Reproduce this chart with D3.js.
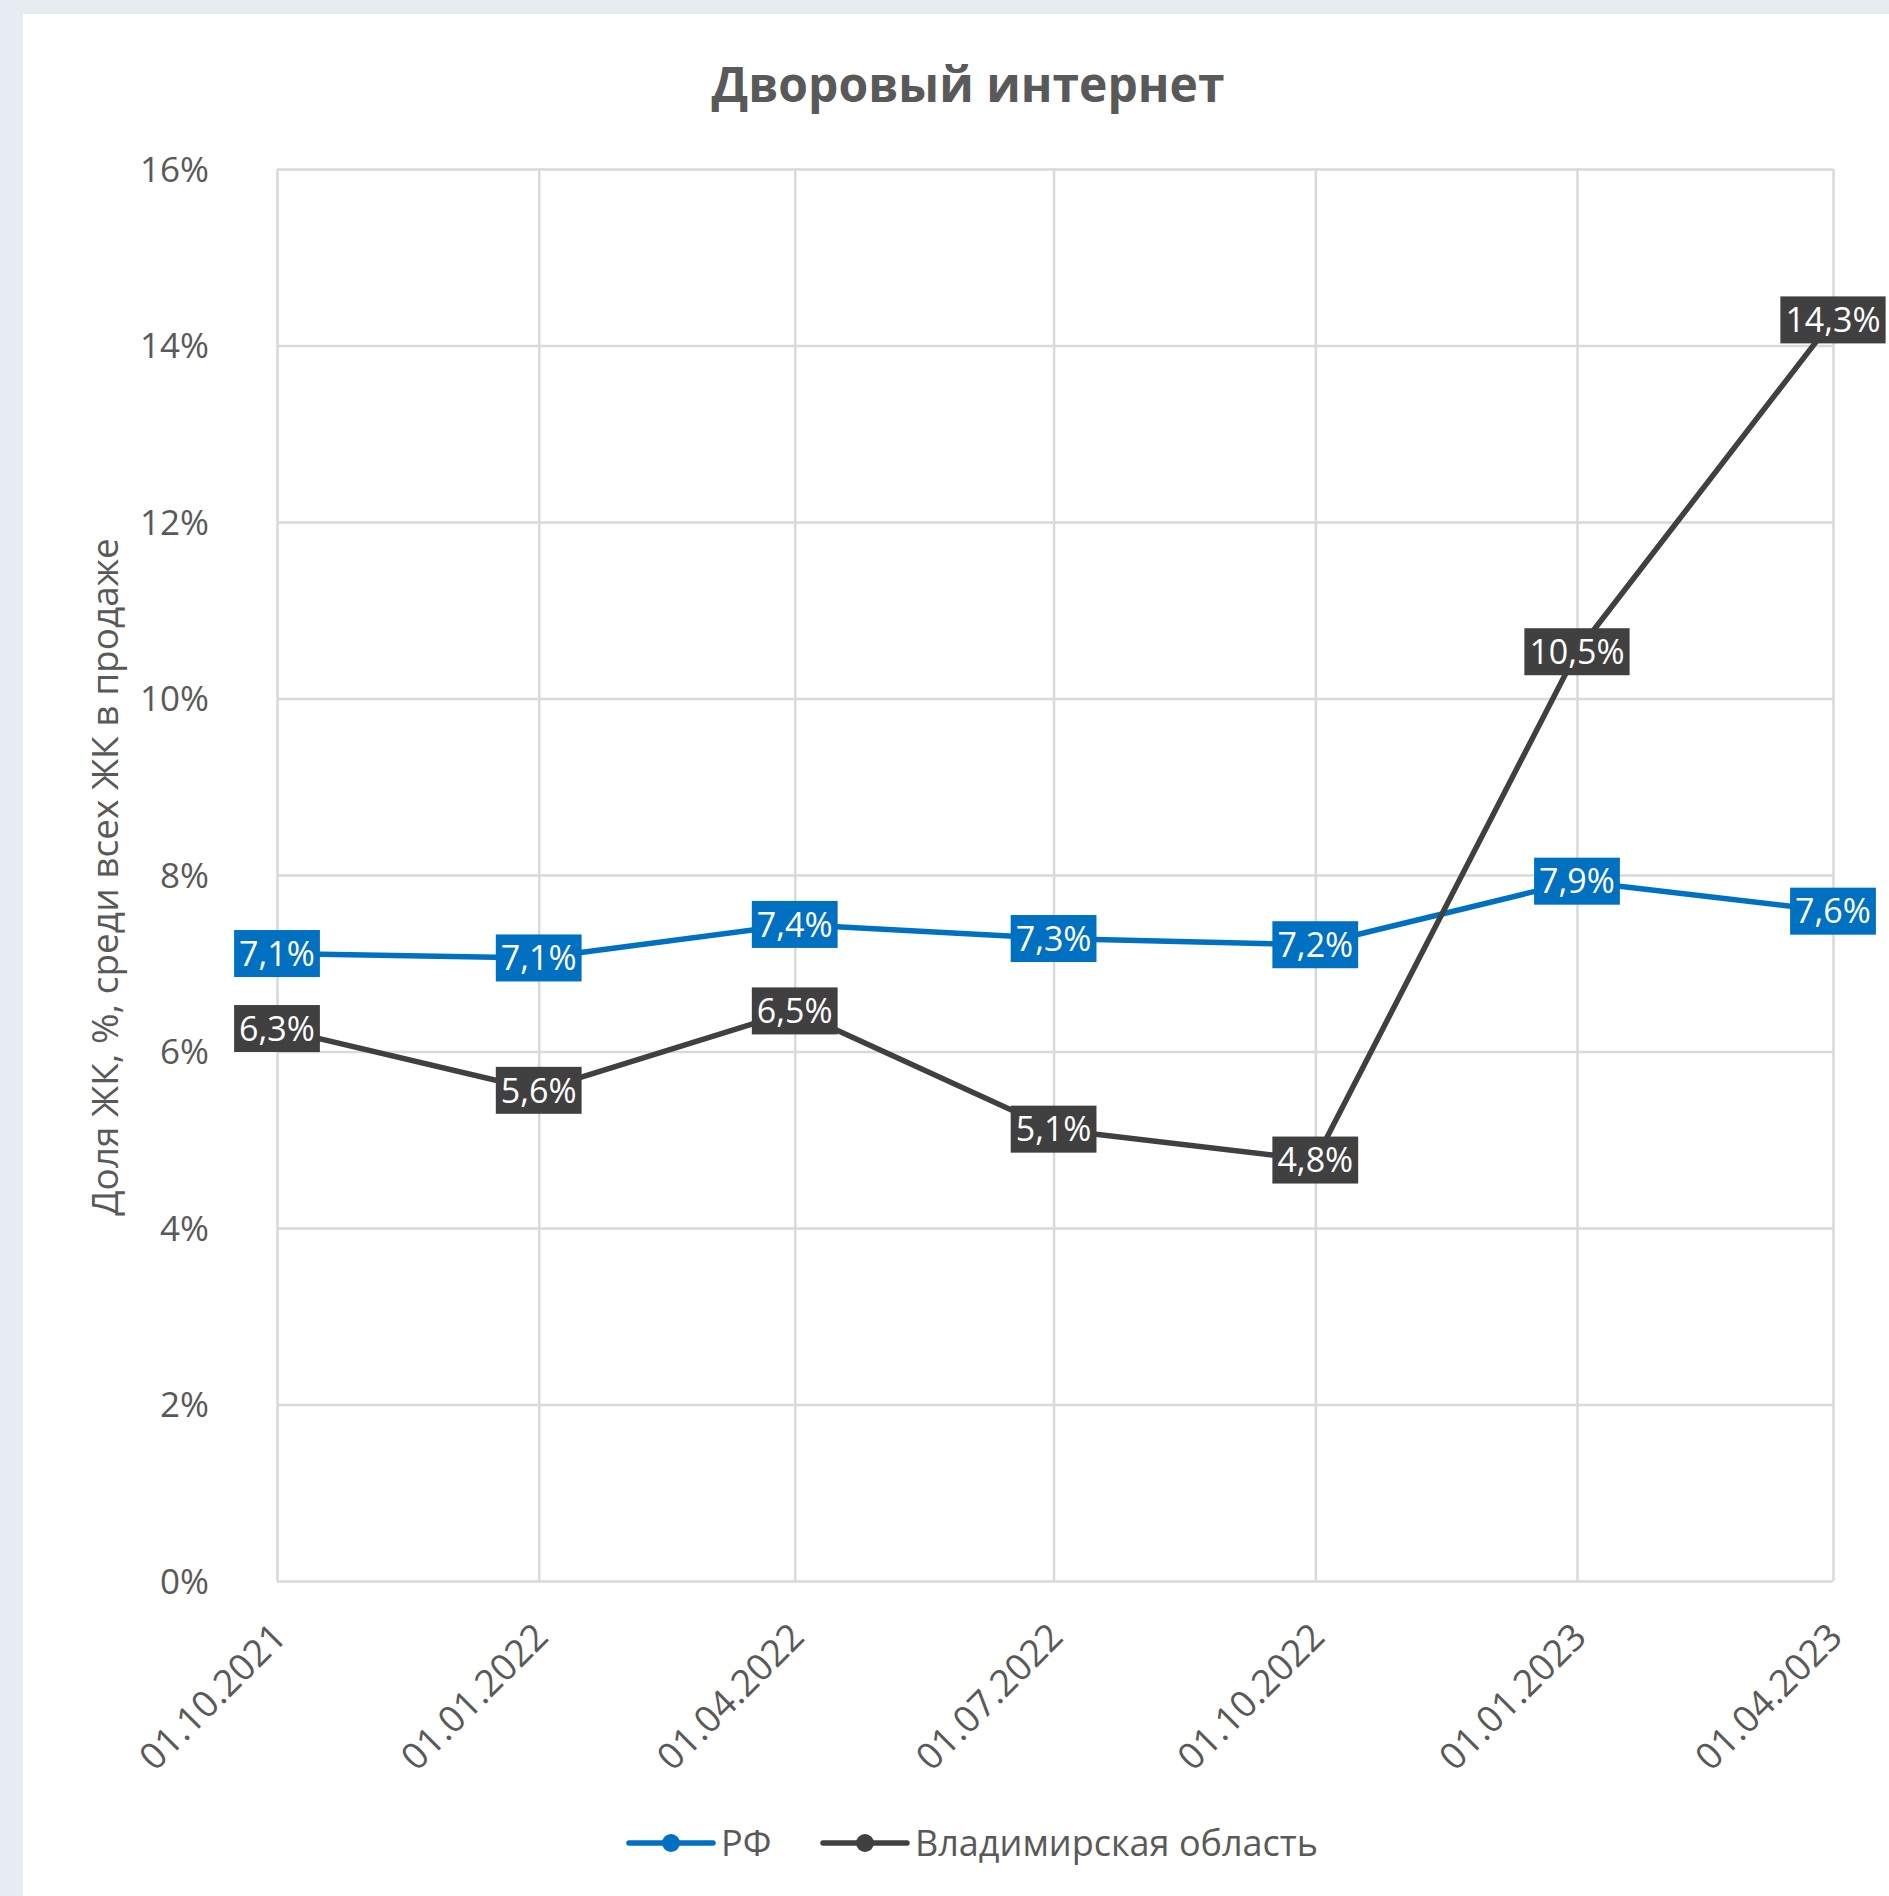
<!DOCTYPE html>
<html>
<head>
<meta charset="utf-8">
<script src="https://cdn.jsdelivr.net/npm/d3@7"></script>
<style>
  html, body { margin: 0; padding: 0; background: #e7ecf3; }
  svg { display: block; }
</style>
</head>
<body>
<svg id="chart" width="1889" height="1896"></svg>
<script>
// ---- data ----
const dates = ["01.10.2021", "01.01.2022", "01.04.2022", "01.07.2022", "01.10.2022", "01.01.2023", "01.04.2023"];
const seriesNames = ["РФ", "Владимирская область"];
const rfValues = [7.11, 7.06, 7.44, 7.28, 7.21, 7.93, 7.59];
const vladValues = [6.26, 5.56, 6.46, 5.12, 4.77, 10.53, 14.29];
const yTicks = [0, 2, 4, 6, 8, 10, 12, 14, 16];
const titleText = "Дворовый интернет";
const yTitleText = "Доля ЖК, %, среди всех ЖК в продаже";
const seriesColors = ["#0070c0", "#404040"];

// ---- layout ----
const W = 1889, H = 1896;
const plot = { left: 277, right: 1833, top: 169, bottom: 1581 };
const font = "'Open Sans', 'Noto Sans', sans-serif";
const textColor = "#595959";
const gridColor = "#d9d9d9";

const parseDate = d3.timeParse("%d.%m.%Y");
const fmtDate = d3.timeFormat("%d.%m.%Y");
const dateObjs = dates.map(parseDate);

const svg = d3.select("#chart");

// panel
svg.append("rect").attr("x", 23).attr("y", 14).attr("width", W - 23).attr("height", H - 14).attr("fill", "#ffffff");

const x = d3.scaleTime().domain(d3.extent(dateObjs)).range([plot.left, plot.right]);
const y = d3.scaleLinear().domain([0, 16]).range([plot.bottom, plot.top]);

// y axis + horizontal gridlines
const yAxis = svg.append("g")
  .attr("transform", `translate(${plot.left},0)`)
  .call(d3.axisLeft(y).tickValues(yTicks).tickFormat(d => d + "%")
    .tickSize(-(plot.right - plot.left)).tickPadding(68));
yAxis.select(".domain").remove();
yAxis.selectAll("line").attr("stroke", gridColor).attr("stroke-width", 2.5);
yAxis.selectAll("text").attr("fill", textColor).attr("font-family", font).attr("font-size", 35)
  .attr("dy", "0.35em");

// x axis + vertical gridlines
const xAxis = svg.append("g")
  .attr("transform", `translate(0,${plot.bottom})`)
  .call(d3.axisBottom(x).tickValues(dateObjs).tickFormat(fmtDate)
    .tickSize(-(plot.bottom - plot.top)));
xAxis.select(".domain").remove();
xAxis.selectAll("line").attr("stroke", gridColor).attr("stroke-width", 2.5);
xAxis.selectAll("text")
  .attr("fill", textColor).attr("font-family", font).attr("font-size", 37)
  .attr("text-anchor", "end")
  .attr("x", 0).attr("y", 0).attr("dy", null)
  .attr("transform", "translate(11,58) rotate(-45)");

// title
svg.append("text")
  .attr("x", 968).attr("y", 102)
  .attr("text-anchor", "middle")
  .attr("font-family", font).attr("font-weight", "bold").attr("font-size", 48)
  .attr("fill", textColor)
  .text(titleText);

// y axis title
svg.append("text")
  .attr("transform", `translate(105,${(plot.top + plot.bottom) / 2 + 2}) rotate(-90)`)
  .attr("text-anchor", "middle").attr("dy", "0.35em")
  .attr("font-family", font).attr("font-size", 37)
  .attr("fill", textColor)
  .text(yTitleText);

// series
const series = [rfValues, vladValues].map((vals, i) => ({
  name: seriesNames[i], color: seriesColors[i],
  points: vals.map((v, j) => ({ date: dateObjs[j], value: v }))
}));

const line = d3.line().x(d => x(d.date)).y(d => y(d.value));

series.forEach(s => {
  svg.append("path").datum(s.points)
    .attr("d", line).attr("fill", "none")
    .attr("stroke", s.color).attr("stroke-width", 5.5)
    .attr("stroke-linejoin", "round").attr("stroke-linecap", "round");
});
series.forEach(s => {
  svg.append("g").selectAll("circle").data(s.points).join("circle")
    .attr("cx", d => x(d.date)).attr("cy", d => y(d.value)).attr("r", 8)
    .attr("fill", s.color);
});

const fmtLabel = v => v.toFixed(1).replace(".", ",") + "%";
series.forEach(s => {
  const g = svg.append("g");
  s.points.forEach(p => {
    const lg = g.append("g").attr("transform", `translate(${x(p.date)},${y(p.value)})`);
    const rect = lg.append("rect").attr("fill", s.color);
    const t = lg.append("text")
      .attr("text-anchor", "middle").attr("dy", "0.36em")
      .attr("font-family", font).attr("font-size", 34).attr("fill", "#ffffff")
      .text(fmtLabel(p.value));
    const w = t.node().getComputedTextLength() + 10;
    rect.attr("x", -w / 2).attr("y", -23.5).attr("width", w).attr("height", 47);
  });
});

// legend
const legendY = 1843;
const legendItems = [
  { x0: 629, name: seriesNames[0], color: seriesColors[0] },
  { x0: 823, name: seriesNames[1], color: seriesColors[1] }
];
legendItems.forEach(it => {
  const g = svg.append("g").attr("transform", `translate(${it.x0},${legendY})`);
  g.append("line").attr("x1", 0).attr("x2", 84).attr("y1", 0).attr("y2", 0)
    .attr("stroke", it.color).attr("stroke-width", 5.5).attr("stroke-linecap", "round");
  g.append("circle").attr("cx", 42).attr("cy", 0).attr("r", 9).attr("fill", it.color);
  g.append("text").attr("x", 92).attr("y", 0).attr("dy", "0.35em")
    .attr("font-family", font).attr("font-size", 36).attr("fill", textColor)
    .text(it.name);
});
</script>
</body>
</html>
